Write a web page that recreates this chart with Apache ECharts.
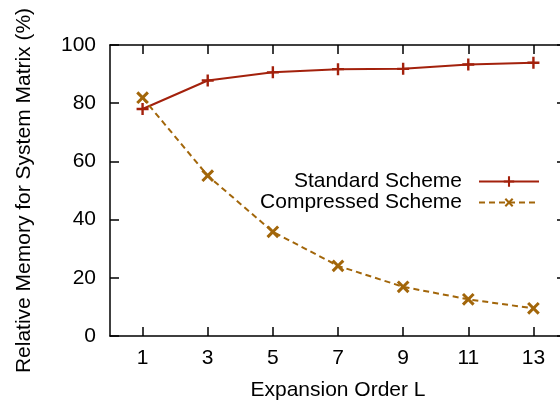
<!DOCTYPE html>
<html><head><meta charset="utf-8">
<script src="https://cdn.jsdelivr.net/npm/echarts@6/dist/echarts.min.js"></script>
<style>html,body{margin:0;padding:0;background:#fff}#c{width:560px;height:405px}</style>
</head><body><div id="c"></div>
<script>
const orders = [1, 3, 5, 7, 9, 11, 13];
const standardScheme = [78.0, 87.8, 90.6, 91.7, 91.8, 93.3, 93.9];
const compressedScheme = [81.9, 55.1, 35.8, 24.1, 16.9, 12.6, 9.5];
const xTicks = [1, 3, 5, 7, 9, 11, 13];
const yTicks = [0, 20, 40, 60, 80, 100];
const seriesNames = ['Standard Scheme', 'Compressed Scheme'];
const xTitle = 'Expansion Order L';
const yTitle = 'Relative Memory for System Matrix (%)';

const FONT = '"Liberation Sans", Arial, sans-serif';
const c1 = '#a3210c', c2 = '#a2660a';
const plus = 'path://M4,0H6V4H10V6H6V10H4V6H0V4H4Z';
const axisLine = {show: true, onZero: false, lineStyle: {color: '#000', width: 1.5}};
const tick = (vals) => ({show: true, inside: true, length: 9, customValues: vals, lineStyle: {color: '#000', width: 1.5}});

const chart = echarts.init(document.getElementById('c'), null, {renderer: 'canvas'});
chart.setOption({
  animation: false,
  backgroundColor: '#fff',
  textStyle: {fontFamily: FONT},
  grid: {left: 110, top: 45, bottom: 69, right: -6, containLabel: false, outerBoundsMode: 'none'},
  xAxis: [
    {type: 'value', min: 0, max: 14, position: 'bottom', axisLine, splitLine: {show: false},
     axisTick: tick(xTicks),
     axisLabel: {customValues: xTicks, color: '#000', fontSize: 21, fontFamily: FONT, margin: 12},
     name: xTitle, nameLocation: 'middle', nameGap: 44,
     nameTextStyle: {color: '#000', fontSize: 21, fontFamily: FONT}},
    {type: 'value', min: 0, max: 14, position: 'top', axisLine, splitLine: {show: false},
     axisTick: tick(xTicks), axisLabel: {show: false}}
  ],
  yAxis: [
    {type: 'value', min: 0, max: 100, position: 'left', axisLine, splitLine: {show: false},
     axisTick: tick(yTicks),
     axisLabel: {customValues: yTicks, color: '#000', fontSize: 21, fontFamily: FONT, margin: 14},
     name: yTitle, nameLocation: 'middle', nameGap: 75,
     nameTextStyle: {color: '#000', fontSize: 21, fontFamily: FONT}},
    {type: 'value', min: 0, max: 100, position: 'right', axisLine, splitLine: {show: false},
     axisTick: tick(yTicks), axisLabel: {show: false}}
  ],
  legend: {
    orient: 'vertical', right: 20, top: 171, padding: 0, align: 'right', itemGap: 0,
    itemWidth: 60, itemHeight: 13,
    textStyle: {color: '#000', fontSize: 21, fontFamily: FONT, lineHeight: 21, padding: [0, 12, 0, 0]},
    data: seriesNames
  },
  series: [
    {name: seriesNames[0], type: 'line', data: orders.map((o, i) => [o, standardScheme[i]]),
     symbol: plus, symbolSize: 12, showAllSymbol: true,
     lineStyle: {color: c1, width: 2}, itemStyle: {color: c1}},
    {name: seriesNames[1], type: 'line', data: orders.map((o, i) => [o, compressedScheme[i]]),
     symbol: plus, symbolSize: 15, symbolRotate: 45, showAllSymbol: true,
     lineStyle: {color: c2, width: 2, type: [6, 4]}, itemStyle: {color: c2}}
  ]
});
</script></body></html>
